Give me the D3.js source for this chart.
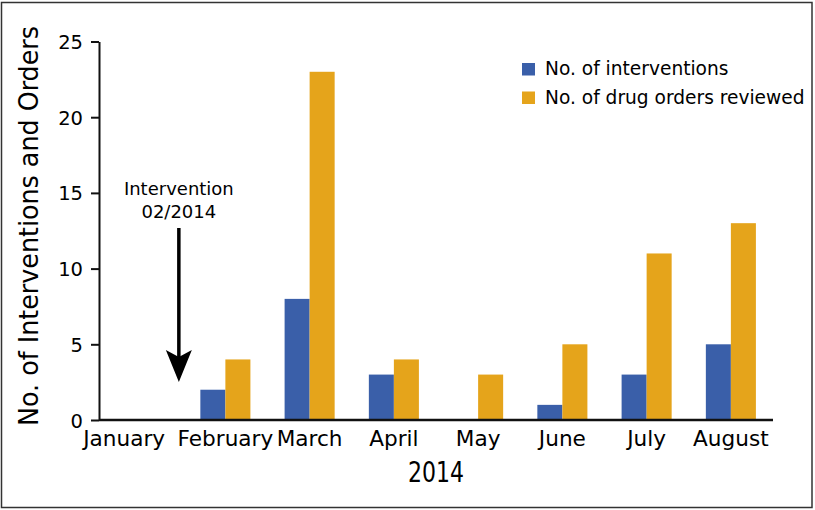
<!DOCTYPE html>
<html>
<head>
<meta charset="utf-8">
<script src="https://cdn.jsdelivr.net/npm/d3@7/dist/d3.min.js"></script>
<style>
  html, body { margin: 0; padding: 0; background: #fff; }
  svg { display: block; }
  text { font-family: "DejaVu Sans", sans-serif; fill: #000; }
</style>
</head>
<body>
<svg id="chart" width="815" height="510"></svg>
<script>
// ---- data ----
const months = ["January", "February", "March", "April", "May", "June", "July", "August"];
const seriesNames = ["No. of interventions", "No. of drug orders reviewed"];
const interventions = [0, 2, 8, 3, 0, 1, 3, 5];
const drugOrders = [0, 4, 23, 4, 3, 5, 11, 13];
const yTicks = [0, 5, 10, 15, 20, 25];
const colors = ["#3a5fa9", "#e5a41b"];
const yTitle = "No. of Interventions and Orders";
const xTitle = "2014";
const annotation = ["Intervention", "02/2014"];

const svg = d3.select("#chart");

// border
svg.append("rect")
  .attr("x", 1.5).attr("y", 2.5).attr("width", 810.5).attr("height", 505)
  .attr("fill", "none").attr("stroke", "#333").attr("stroke-width", 1.5);

const plotLeft = 99, plotRight = 773, plotTop = 41.5, plotBottom = 420;

const x0 = d3.scaleBand().domain(months).range([plotLeft, plotRight])
  .paddingInner(0.406).paddingOuter(0.203);
const x1 = d3.scaleBand().domain(seriesNames).range([0, x0.bandwidth()]);
const y = d3.scaleLinear().domain([0, 25]).range([plotBottom, plotTop]);

const rows = months.map((m, i) => ({ month: m, values: [interventions[i], drugOrders[i]] }));

// bars
const groups = svg.append("g").selectAll("g").data(rows).join("g")
  .attr("transform", d => `translate(${x0(d.month)},0)`);
groups.selectAll("rect")
  .data(d => d.values.map((v, j) => ({ key: seriesNames[j], v, j })))
  .join("rect")
  .attr("x", d => x1(d.key))
  .attr("width", x1.bandwidth())
  .attr("y", d => y(d.v))
  .attr("height", d => y(0) - y(d.v))
  .attr("fill", d => colors[d.j]);

// y axis
const yAxis = svg.append("g").attr("transform", `translate(${plotLeft},0)`)
  .call(d3.axisLeft(y).tickValues(yTicks).tickSize(8).tickPadding(8).tickSizeOuter(0));
yAxis.select(".domain").attr("stroke", "#111").attr("stroke-width", 2);
yAxis.selectAll(".tick line").attr("stroke", "#111").attr("stroke-width", 2);
yAxis.selectAll(".tick text").style("font-family", "DejaVu Sans").style("font-size", "19.5px")
  .attr("fill", "#000").attr("dy", "0.36em");

// x axis
const xAxis = svg.append("g").attr("transform", `translate(0,${plotBottom})`)
  .call(d3.axisBottom(x0).tickSize(0).tickPadding(10).tickSizeOuter(0));
xAxis.select(".domain").attr("stroke", "#111").attr("stroke-width", 2.5)
  .attr("d", `M${plotLeft},0H${plotRight}`);
xAxis.selectAll(".tick text").style("font-family", "DejaVu Sans").style("font-size", "21.6px")
  .attr("fill", "#000").attr("dy", "0.76em")
  .attr("dx", d => d === "January" ? -17 : 0);

// axis titles
svg.append("text")
  .attr("transform", `translate(38,226) rotate(-90)`)
  .attr("text-anchor", "middle")
  .attr("textLength", 400).attr("lengthAdjust", "spacingAndGlyphs")
  .style("font-size", "27px")
  .text(yTitle);

svg.append("text")
  .attr("x", (408 + 464) / 2).attr("y", 482)
  .attr("text-anchor", "middle")
  .attr("textLength", 56).attr("lengthAdjust", "spacingAndGlyphs")
  .style("font-size", "28px")
  .text(xTitle);

// legend
const legend = svg.append("g").attr("transform", "translate(522,63)");
seriesNames.forEach((s, i) => {
  const g = legend.append("g").attr("transform", `translate(0,${i * 28.5})`);
  g.append("rect").attr("width", 13).attr("height", 12.5).attr("fill", colors[i]);
  g.append("text").attr("x", 23).attr("y", 12).style("font-size", "18.6px").text(s);
});

// annotation arrow
const ax = x0("February") - 21.5;
svg.append("text").attr("x", ax).attr("y", 195).attr("text-anchor", "middle")
  .style("font-size", "18px").text(annotation[0]);
svg.append("text").attr("x", ax).attr("y", 218).attr("text-anchor", "middle")
  .style("font-size", "18px").text(annotation[1]);
const yTop = 228, yTip = 382;
svg.append("line").attr("x1", ax).attr("x2", ax).attr("y1", yTop).attr("y2", yTip - 20)
  .attr("stroke", "#000").attr("stroke-width", 3.5);
svg.append("path")
  .attr("d", `M${ax},${yTip} L${ax - 13},${yTip - 32} L${ax},${yTip - 25} L${ax + 13},${yTip - 32} Z`)
  .attr("fill", "#000");
</script>
</body>
</html>
